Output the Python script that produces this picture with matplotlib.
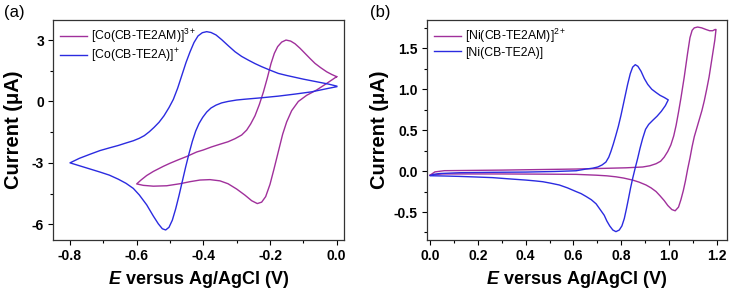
import matplotlib.pyplot as plt
from matplotlib.ticker import MultipleLocator

plt.rcParams['font.family'] = ['Liberation Sans', 'DejaVu Sans']
plt.rcParams['mathtext.fontset'] = 'custom'
plt.rcParams['mathtext.default'] = 'regular'
plt.rcParams['mathtext.it'] = 'Liberation Sans:italic:bold'

# (a) Co complexes, potential (V) and current (uA)
co_am_E = [0.0, -0.03, -0.06, -0.09, -0.115, -0.135, -0.15, -0.162, -0.175, -0.188,
           -0.2, -0.213, -0.225, -0.238, -0.255, -0.275, -0.3, -0.326, -0.35, -0.38,
           -0.41, -0.44, -0.47, -0.51, -0.55, -0.58, -0.60,
           -0.587, -0.57, -0.55, -0.52, -0.5, -0.475, -0.45, -0.42, -0.4, -0.375,
           -0.35, -0.326, -0.305, -0.285, -0.27, -0.258, -0.245, -0.232, -0.22, -0.208,
           -0.197, -0.187, -0.177, -0.165, -0.152, -0.138, -0.125, -0.11, -0.095, -0.08,
           -0.065, -0.048, -0.03, -0.015, 0.0]
co_am_I = [1.21, 0.88, 0.56, 0.30, 0.0, -0.45, -1.0, -1.6, -2.45, -3.3,
           -4.05, -4.65, -4.92, -4.99, -4.85, -4.58, -4.28, -4.02, -3.88, -3.82,
           -3.84, -3.92, -4.02, -4.12, -4.14, -4.1, -4.03,
           -3.84, -3.62, -3.42, -3.17, -3.02, -2.85, -2.69, -2.47, -2.37, -2.22,
           -2.09, -1.97, -1.82, -1.64, -1.4, -1.1, -0.7, -0.15, 0.45, 1.15,
           1.85, 2.35, 2.68, 2.9, 3.0, 2.95, 2.82, 2.6, 2.35, 2.1,
           1.86, 1.65, 1.45, 1.32, 1.21]

co_a_E = [0.0, -0.025, -0.075, -0.125, -0.175, -0.225, -0.275, -0.30, -0.326, -0.345,
          -0.362, -0.377, -0.39, -0.402, -0.413, -0.423, -0.433, -0.443, -0.453, -0.463,
          -0.473, -0.483, -0.493, -0.503, -0.513, -0.523, -0.535, -0.55, -0.57, -0.592,
          -0.61, -0.632, -0.655, -0.682, -0.71, -0.74, -0.772, -0.80,
          -0.772, -0.74, -0.71, -0.682, -0.655, -0.632, -0.61, -0.592, -0.577, -0.562,
          -0.548, -0.533, -0.518, -0.503, -0.49, -0.477, -0.464, -0.452, -0.44, -0.428,
          -0.416, -0.403, -0.39, -0.377, -0.362, -0.345, -0.325, -0.305, -0.285, -0.265,
          -0.245, -0.225, -0.2, -0.175, -0.15, -0.125, -0.1, -0.075, -0.05, -0.025, 0.0]
co_a_I = [0.72, 0.64, 0.47, 0.36, 0.26, 0.18, 0.11, 0.07, 0.0, -0.07,
          -0.18, -0.32, -0.52, -0.78, -1.08, -1.45, -1.95, -2.55, -3.2, -3.9,
          -4.6, -5.25, -5.8, -6.15, -6.28, -6.22, -5.98, -5.6, -5.05, -4.57,
          -4.25, -4.0, -3.8, -3.6, -3.45, -3.3, -3.14, -3.0,
          -2.78, -2.58, -2.4, -2.27, -2.15, -2.03, -1.92, -1.8, -1.67, -1.48,
          -1.27, -1.02, -0.70, -0.30, 0.10, 0.65, 1.30, 1.90, 2.42, 2.88,
          3.2, 3.36, 3.41, 3.37, 3.25, 3.02, 2.72, 2.43, 2.2, 2.02,
          1.85, 1.70, 1.53, 1.37, 1.27, 1.18, 1.09, 1.01, 0.93, 0.85, 0.75]

# (b) Ni complexes
ni_am_E = [0.0, 0.02, 0.06, 0.30, 0.611, 0.82, 0.89, 0.92, 0.946, 0.965,
           0.98, 0.995, 1.008, 1.02, 1.03, 1.04, 1.05, 1.064, 1.078, 1.088,
           1.097, 1.106, 1.12, 1.137, 1.155, 1.17, 1.183, 1.193, 1.197,
           1.192, 1.184, 1.176, 1.168, 1.158, 1.148, 1.138, 1.127, 1.117, 1.106,
           1.097, 1.088, 1.078, 1.069, 1.06, 1.05, 1.04, 1.026, 1.012, 0.995,
           0.98, 0.962, 0.946, 0.925, 0.904, 0.875, 0.848, 0.81, 0.778, 0.74,
           0.695, 0.611, 0.45, 0.30, 0.15, 0.05, 0.0]
ni_am_I = [-0.05, -0.01, 0.005, 0.012, 0.025, 0.04, 0.05, 0.065, 0.09, 0.12,
           0.17, 0.24, 0.32, 0.43, 0.56, 0.72, 0.89, 1.15, 1.44, 1.63,
           1.72, 1.75, 1.76, 1.75, 1.73, 1.715, 1.715, 1.73, 1.73,
           1.60, 1.45, 1.30, 1.15, 1.00, 0.86, 0.74, 0.63, 0.53, 0.42,
           0.30, 0.16, 0.02, -0.12, -0.24, -0.35, -0.44, -0.485, -0.47, -0.42,
           -0.36, -0.30, -0.25, -0.205, -0.17, -0.135, -0.11, -0.085, -0.07, -0.058,
           -0.05, -0.04, -0.037, -0.035, -0.035, -0.035, -0.05]

ni_a_E = [0.0, 0.015, 0.039, 0.123, 0.26, 0.402, 0.52, 0.611, 0.653, 0.68,
          0.702, 0.72, 0.736, 0.748, 0.757, 0.767, 0.777, 0.788, 0.799, 0.813,
          0.827, 0.838, 0.848, 0.859, 0.87, 0.883, 0.897, 0.911, 0.928, 0.946,
          0.963, 0.98, 0.997,
          0.985, 0.968, 0.95, 0.932, 0.915, 0.902, 0.89, 0.879, 0.869, 0.858,
          0.848, 0.839, 0.831, 0.822, 0.813, 0.803, 0.792, 0.778, 0.765, 0.752,
          0.74, 0.729, 0.712, 0.695, 0.675, 0.653, 0.632, 0.611, 0.575, 0.541,
          0.505, 0.472, 0.44, 0.402, 0.33, 0.262, 0.19, 0.123, 0.06, 0.004]
ni_a_I = [-0.055, -0.04, -0.03, -0.02, -0.015, -0.012, -0.005, 0.004, 0.025, 0.035,
          0.05, 0.075, 0.11, 0.17, 0.24, 0.33, 0.43, 0.545, 0.68, 0.87,
          1.06, 1.19, 1.27, 1.30, 1.28, 1.22, 1.13, 1.06, 1.00, 0.96,
          0.925, 0.90, 0.87,
          0.80, 0.73, 0.67, 0.62, 0.57, 0.51, 0.40, 0.28, 0.155, 0.03,
          -0.09, -0.21, -0.33, -0.46, -0.58, -0.67, -0.72, -0.74, -0.72, -0.67,
          -0.61, -0.54, -0.47, -0.40, -0.35, -0.31, -0.275, -0.25, -0.205, -0.17,
          -0.148, -0.13, -0.12, -0.11, -0.095, -0.08, -0.072, -0.065, -0.06, -0.057]

mag = '#A0309B'
blu = '#2B2BE0'

fig = plt.figure(figsize=(7.29, 2.90), dpi=100)
ax1 = fig.add_axes([53 / 729, 50 / 290, 291 / 729, 220 / 290])
ax2 = fig.add_axes([427 / 729, 50 / 290, 300 / 729, 220 / 290])

ax1.plot(co_am_E, co_am_I, color=mag, lw=1.0, label=r'[Co(CB-TE2AM)]$^{3+}$')
ax1.plot(co_a_E, co_a_I, color=blu, lw=1.0, label=r'[Co(CB-TE2A)]$^{+}$')
ax1.set_xlim(-0.851, 0.022)
ax1.set_ylim(-6.77, 3.98)
ax1.xaxis.set_minor_locator(MultipleLocator(0.1))
ax1.yaxis.set_minor_locator(MultipleLocator(1.5))
ax1.set_xticks([-0.8, -0.6, -0.4, -0.2, 0.0])
ax1.set_xticklabels(['-0.8', '-0.6', '-0.4', '-0.2', '0.0'])
ax1.set_yticks([3, 0, -3, -6])
ax1.set_yticklabels(['3', '0', '-3', '-6'])

ax2.plot(ni_am_E, ni_am_I, color=mag, lw=1.0, label=r'[Ni(CB-TE2AM)]$^{2+}$')
ax2.plot(ni_a_E, ni_a_I, color=blu, lw=1.0, label='[Ni(CB-TE2A)]')
ax2.set_xlim(-0.013, 1.243)
ax2.set_ylim(-0.842, 1.846)
ax2.xaxis.set_minor_locator(MultipleLocator(0.1))
ax2.yaxis.set_minor_locator(MultipleLocator(0.25))
ax2.set_xticks([0.0, 0.2, 0.4, 0.6, 0.8, 1.0, 1.2])
ax2.set_xticklabels(['0.0', '0.2', '0.4', '0.6', '0.8', '1.0', '1.2'])
ax2.set_yticks([-0.5, 0.0, 0.5, 1.0, 1.5])
ax2.set_yticklabels(['-0.5', '0.0', '0.5', '1.0', '1.5'])

for ax, tag, ypad in [(ax1, '(a)', 6.5), (ax2, '(b)', 3.5)]:
    for s in ax.spines.values():
        s.set_color('#333333')
        s.set_linewidth(0.9)
    ax.tick_params(which='major', direction='out', length=3.5, width=0.8, labelsize=10, pad=3)
    ax.tick_params(which='minor', direction='out', length=2, width=0.8)
    for lab in ax.get_xticklabels() + ax.get_yticklabels():
        lab.set_fontweight('bold')
    ax.set_xlabel(r'$\it{E}$ versus Ag/AgCl (V)', fontsize=13, fontweight='bold', labelpad=4)
    ax.set_ylabel('Current (μA)', fontsize=14.5, fontweight='bold', labelpad=ypad)
    ax.legend(loc='upper left', frameon=False, fontsize=8.8, handlelength=2.2,
              handletextpad=0.35, labelspacing=0.15, borderaxespad=0.15)
    ax.text(-0.17 if ax is ax1 else -0.19, 1.0, tag, transform=ax.transAxes,
            fontsize=12, va='bottom', ha='left')

fig.savefig('out.png', dpi=100)
plt.close(fig)
